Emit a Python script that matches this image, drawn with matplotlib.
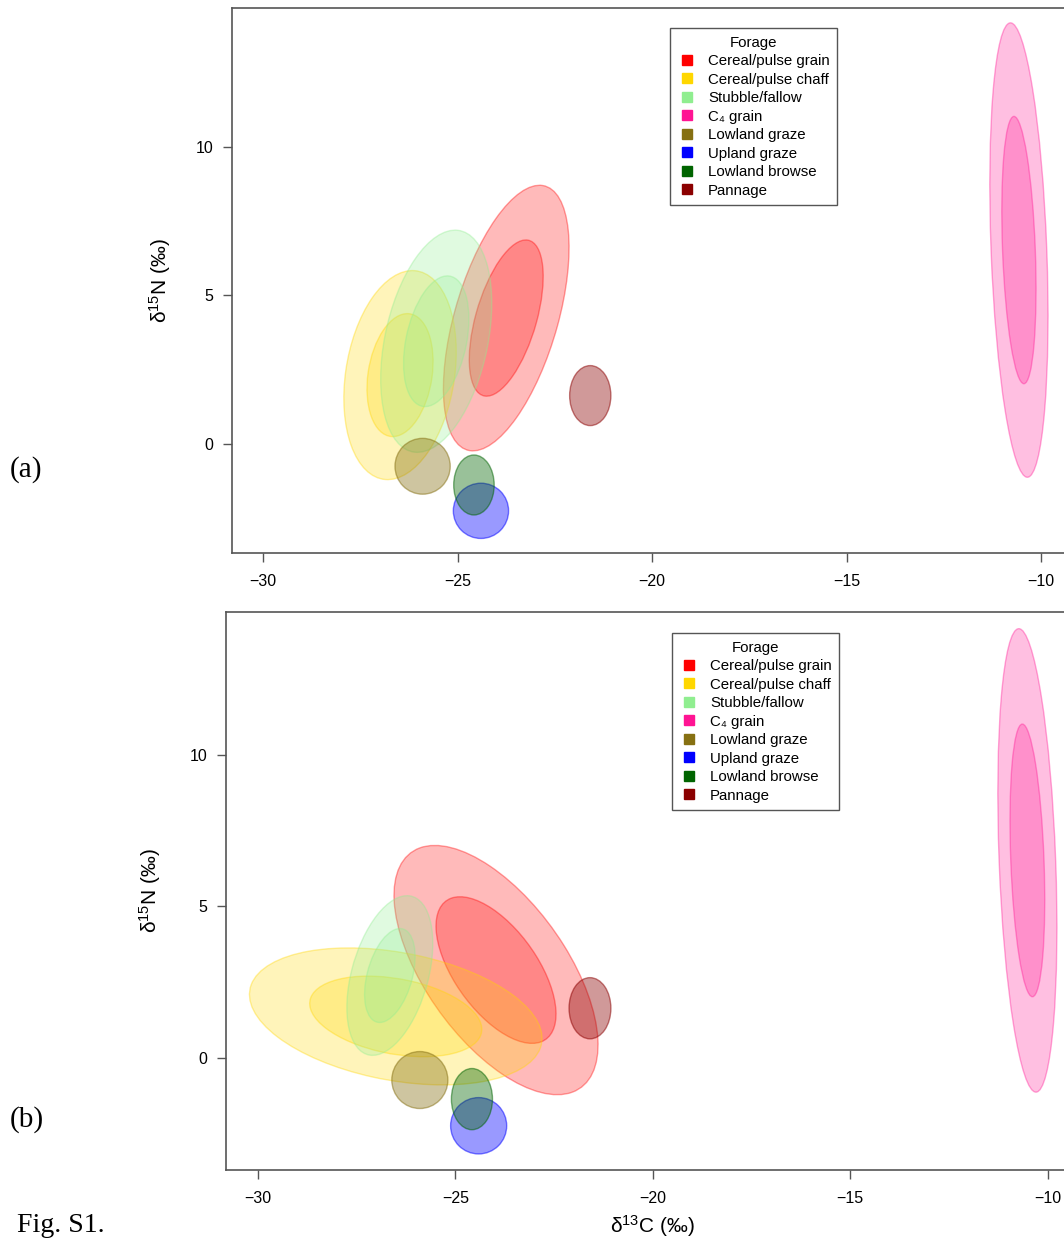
import matplotlib.pyplot as plt
import numpy as np
from matplotlib.patches import Ellipse
from matplotlib.lines import Line2D
from matplotlib.colors import to_rgba

plt.rcParams['font.family'] = ['Liberation Sans', 'DejaVu Sans']
plt.rcParams['mathtext.fontset'] = 'custom'
plt.rcParams['mathtext.rm'] = 'Liberation Sans'
plt.rcParams['mathtext.it'] = 'Liberation Sans:italic'

# forage groups (legend order)
groups = ['Cereal/pulse grain', 'Cereal/pulse chaff', 'Stubble/fallow', 'C₄ grain',
          'Lowland graze', 'Upland graze', 'Lowland browse', 'Pannage']
colours = ['#ff0000', '#ffd700', '#90ee90', '#ff1493',
           '#867012', '#0000ff', '#006400', '#8b0000']
two_rings = [True, True, True, True, False, False, False, False]
outer_scale = 1.7

# panel (a): ellipse centre, sd of d13C, sd of d15N, correlation
a_x = [-23.75, -26.48, -25.55, -10.57, -25.90, -24.40, -24.58, -21.59]
a_y = [4.24, 2.32, 3.46, 6.53, -0.75, -2.25, -1.38, 1.63]
a_sx = [0.95, 0.85, 0.84, 0.44, 0.71, 0.71, 0.52, 0.53]
a_sy = [2.63, 2.07, 2.20, 4.50, 0.94, 0.93, 1.01, 1.01]
a_r = [0.53, 0.22, 0.34, -0.29, 0.0, 0.0, 0.0, 0.0]

# panel (b)
b_x = [-23.97, -26.51, -26.66, -10.51, -25.90, -24.41, -24.58, -21.59]
b_y = [2.90, 1.37, 2.72, 6.52, -0.73, -2.24, -1.36, 1.64]
b_sx = [1.52, 2.18, 0.64, 0.44, 0.71, 0.71, 0.52, 0.53]
b_sy = [2.42, 1.33, 1.55, 4.50, 0.94, 0.93, 1.01, 1.01]
b_r = [-0.60, -0.32, 0.40, -0.29, 0.0, 0.0, 0.0, 0.0]

xticks = [-30, -25, -20, -15, -10]
yticks = [0, 5, 10]
axcol = '#555555'


def draw_ellipse(ax, x, y, sx, sy, r, scale, colour, alpha):
    cov = np.array([[sx * sx, r * sx * sy], [r * sx * sy, sy * sy]]) * scale ** 2
    vals, vecs = np.linalg.eigh(cov)
    angle = np.degrees(np.arctan2(vecs[1, 1], vecs[0, 1]))
    e = Ellipse((x, y), 2 * np.sqrt(vals[1]), 2 * np.sqrt(vals[0]), angle=angle,
                facecolor=to_rgba(colour, alpha), edgecolor=to_rgba(colour, min(1, alpha + 0.1)),
                lw=1.0)
    ax.add_patch(e)


def panel(ax, xs, ys, sxs, sys_, rs, xlim, ylim, legend_xy):
    for i in range(len(groups)):
        if two_rings[i]:
            draw_ellipse(ax, xs[i], ys[i], sxs[i], sys_[i], rs[i], outer_scale, colours[i], 0.27)
            draw_ellipse(ax, xs[i], ys[i], sxs[i], sys_[i], rs[i], 1.0, colours[i], 0.27)
        else:
            draw_ellipse(ax, xs[i], ys[i], sxs[i], sys_[i], rs[i], 1.0, colours[i], 0.4)
    ax.set_xlim(xlim)
    ax.set_ylim(ylim)
    ax.set_xticks(xticks)
    ax.set_yticks(yticks)
    for s in ax.spines.values():
        s.set_color(axcol)
        s.set_linewidth(1.2)
    ax.tick_params(axis='both', direction='out', length=6.8, width=1.0, color=axcol,
                   labelsize=11.5)
    ax.tick_params(axis='x', pad=8)
    ax.tick_params(axis='y', pad=6.5)
    handles = [Line2D([], [], ls='none', marker='s', ms=7, mfc=c, mec=c) for c in colours]
    leg = ax.legend(handles, groups, title='Forage', loc='upper left',
                    bbox_to_anchor=legend_xy, fancybox=False, framealpha=1,
                    edgecolor=axcol, fontsize=10.8, title_fontsize=10.8,
                    handlelength=1.3, handletextpad=0.75, labelspacing=0.3,
                    borderpad=0.5, borderaxespad=0)
    leg.get_frame().set_linewidth(1.0)
    ax.set_ylabel('δ$^{15}$N (‰)', fontsize=15)


fig = plt.figure(figsize=(10.64, 12.40), dpi=100)

ax_a = fig.add_axes([232 / 1064, 1 - 553 / 1240, (1080 - 232) / 1064, 545 / 1240])
panel(ax_a, a_x, a_y, a_sx, a_sy, a_r, (-30.8, -9.0), (-3.67, 14.68), (0.5165, 0.963))
ax_a.yaxis.set_label_coords(-0.0696, 0.5)

ax_b = fig.add_axes([226 / 1064, 1 - 1170 / 1240, (1087 - 226) / 1064, 558 / 1240])
panel(ax_b, b_x, b_y, b_sx, b_sy, b_r, (-30.81, -9.0), (-3.70, 14.72), (0.518, 0.962))
ax_b.yaxis.set_label_coords(-0.0729, 0.5)
ax_b.set_xlabel('δ$^{13}$C (‰)', fontsize=15, va='top')
ax_b.xaxis.set_label_coords(0.495, -0.078)

fig.text(10 / 1064, 1 - 470 / 1240, '(a)', family='Liberation Serif', fontsize=21, va='center')
fig.text(10 / 1064, 1 - 1120 / 1240, '(b)', family='Liberation Serif', fontsize=21, va='center')
fig.text(17 / 1064, 1 - 1232 / 1240, 'Fig. S1.', family='Liberation Serif', fontsize=20,
         va='baseline')

fig.savefig('out.png', dpi=100)
